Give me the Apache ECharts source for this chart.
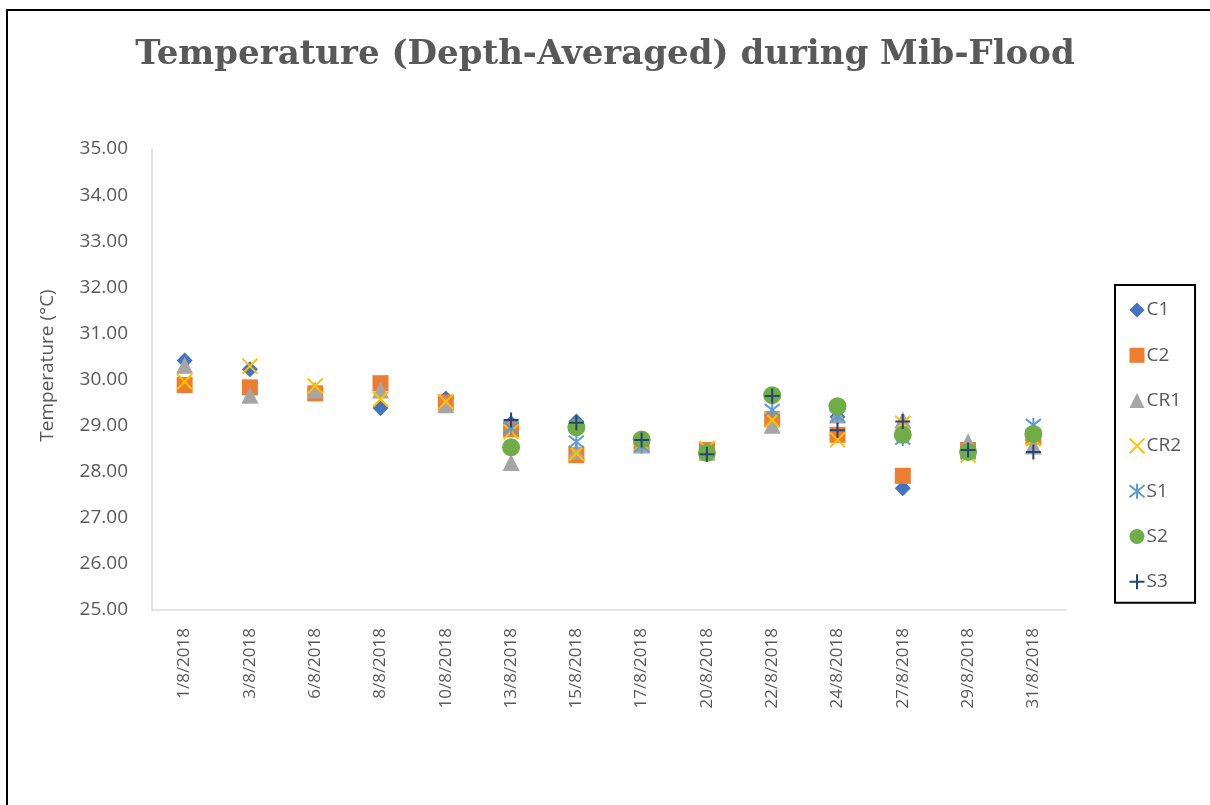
<!DOCTYPE html>
<html>
<head>
<meta charset="utf-8">
<title>Temperature (Depth-Averaged) during Mib-Flood</title>
<script src="https://cdn.jsdelivr.net/npm/echarts@6/dist/echarts.min.js"></script>
<style>
  html, body { margin: 0; padding: 0; background: #fff; overflow: hidden; }
  #chart { width: 1210px; height: 805px; position: relative; }
  /* outer black frame, running off the right and bottom edges like the source */
  .frame {
    position: absolute; left: 6px; top: 9px; width: 1230px; height: 830px;
    border: 2.5px solid #000; box-sizing: border-box; pointer-events: none;
  }
</style>
</head>
<body>
<div id="chart"></div>
<div class="frame"></div>
<script>
// ---- data ----
const dates = ['1/8/2018', '3/8/2018', '6/8/2018', '8/8/2018', '10/8/2018', '13/8/2018', '15/8/2018',
  '17/8/2018', '20/8/2018', '22/8/2018', '24/8/2018', '27/8/2018', '29/8/2018', '31/8/2018']

const c1  = [30.41, 30.22, 29.72, 29.38, 29.59, 29.05, 29.09, 28.60, 28.40, 29.20, 29.19, 27.64, 28.50, 28.70]
const c2  = [29.88, 29.83, 29.70, 29.92, 29.50, 28.92, 28.36, 28.58, 28.47, 29.14, 28.80, 27.91, 28.47, 28.76]
const cr1 = [30.31, 29.66, 29.77, 29.77, 29.45, 28.20, 28.45, 28.58, 28.42, 29.01, 29.23, 29.12, 28.65, 28.56]
const cr2 = [29.95, 30.29, 29.86, 29.57, 29.52, 28.87, 28.40, 28.62, 28.50, 29.12, 28.69, 29.05, 28.36, 28.72]
const s1  = [null, null, null, null, null, 28.95, 28.65, 28.56, 28.45, 29.34, 29.20, 28.72, 28.40, 29.01]
const s2  = [null, null, null, null, null, 28.53, 28.96, 28.70, 28.41, 29.66, 29.42, 28.80, 28.43, 28.82]
const s3  = [null, null, null, null, null, 29.12, 29.06, 28.69, 28.38, 29.64, 28.90, 29.09, 28.47, 28.43]

const yTicks = { min: 25, max: 35, step: 1 }

// ---- marker shapes (Excel style) ----
const X_PATH = 'path://M0,0 L10,10 M10,0 L0,10'
const STAR_PATH = 'path://M0,1 L10,9 M10,1 L0,9 M5,0 L5,10'
const PLUS_PATH = 'path://M5,0 L5,10 M0,5 L10,5'

const TEXT = '#595959'
const FONT = '"Open Sans", "Liberation Sans", sans-serif'

function filled(name, data, symbol, size, color) {
  return {
    name, type: 'scatter', data, symbol, symbolSize: size,
    itemStyle: { color, opacity: 1 },
  }
}

function stroked(name, data, symbol, size, color) {
  return {
    name, type: 'scatter', data, symbol, symbolSize: size,
    itemStyle: { color: 'none', borderColor: color, borderWidth: 2, opacity: 1 },
  }
}

const chart = echarts.init(document.getElementById('chart'))

chart.setOption({
  backgroundColor: '#fff',
  animation: false,
  title: {
    text: 'Temperature (Depth-Averaged) during Mib-Flood',
    left: 'center',
    top: 33,
    textStyle: {
      fontFamily: '"DejaVu Serif", "Liberation Serif", serif',
      fontWeight: 'bold',
      fontSize: 34,
      color: TEXT,
    },
  },
  grid: { left: 152, right: 144, top: 149, bottom: 195 },
  legend: {
    orient: 'vertical',
    left: 1115,
    top: 285,
    padding: [15, 14, 11, 12],
    itemGap: 25.3,
    itemWidth: 15,
    itemHeight: 15,
    borderColor: '#000',
    borderWidth: 2,
    textStyle: { fontFamily: FONT, fontSize: 19, lineHeight: 20, color: TEXT, padding: [0, 0, 0, -3] },
    data: ['C1', 'C2', 'CR1', 'CR2', 'S1', 'S2', 'S3'],
  },
  xAxis: {
    type: 'category',
    data: dates,
    axisLine: { lineStyle: { color: '#D9D9D9', width: 1.5 } },
    axisTick: { show: false },
    axisLabel: {
      rotate: 90, margin: 18, interval: 0,
      fontFamily: FONT, fontSize: 17, color: TEXT,
    },
  },
  yAxis: {
    type: 'value',
    min: yTicks.min,
    max: yTicks.max,
    interval: yTicks.step,
    name: 'Temperature (°C)',
    nameLocation: 'middle',
    nameGap: 95,
    nameTextStyle: { fontFamily: FONT, fontSize: 19, color: TEXT, padding: [0, 0, 0, 28] },
    axisLine: { show: true, lineStyle: { color: '#D9D9D9', width: 1.5 } },
    axisTick: { show: false },
    splitLine: { show: false },
    axisLabel: {
      margin: 24, fontFamily: FONT, fontSize: 19, color: TEXT,
      formatter: (v) => v.toFixed(2),
    },
  },
  series: [
    filled('C1', c1, 'diamond', 16, '#4472C4'),
    filled('C2', c2, 'rect', 16, '#ED7D31'),
    filled('CR1', cr1, 'triangle', 17, '#A5A5A5'),
    stroked('CR2', cr2, X_PATH, 15, '#FFC000'),
    stroked('S1', s1, STAR_PATH, 15, '#5B9BD5'),
    filled('S2', s2, 'circle', 18, '#70AD47'),
    stroked('S3', s3, PLUS_PATH, 15, '#264478'),
  ],
})
</script>
</body>
</html>
